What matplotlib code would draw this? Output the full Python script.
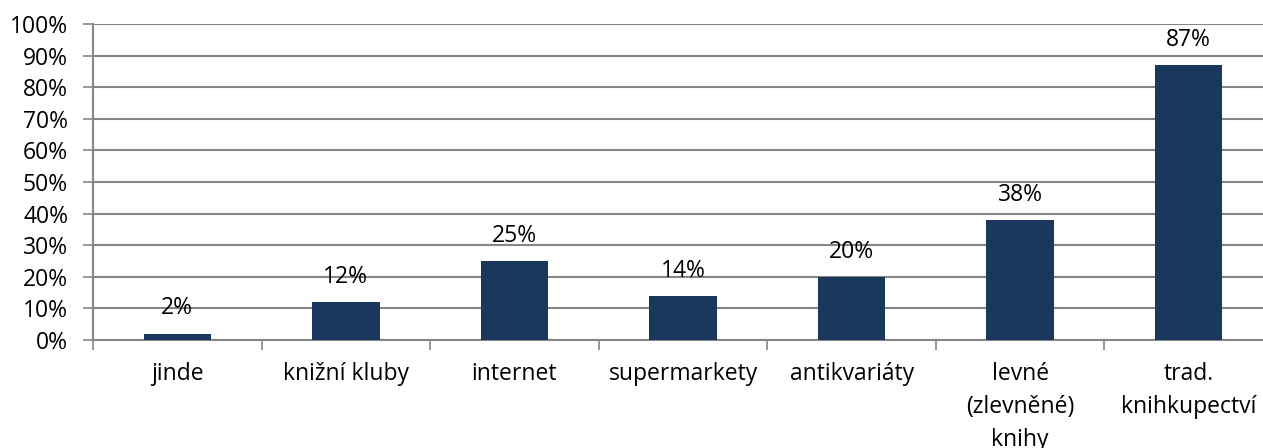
import matplotlib.pyplot as plt
import numpy as np

categories = ["jinde", "knižní kluby", "internet", "supermarkety", "antikvariáty",
              "levné\n(zlevněné)\nknihy", "trad.\nknihkupectví"]
values = [2, 12, 25, 14, 20, 38, 87]
yticks = [0, 10, 20, 30, 40, 50, 60, 70, 80, 90, 100]

plt.rcParams['font.family'] = ['Open Sans', 'DejaVu Sans']
fs = 16.5

fig = plt.figure(figsize=(12.63, 4.48), dpi=100)
# axes runs a little past the right edge, like the original
ax = fig.add_axes([93/1263, 1 - 340/448, 1180/1263, 316/448])

grid_col = "#868686"
bar_col = "#1a375e"

x = np.arange(len(categories))
ax.bar(x, values, width=0.4, color=bar_col, zorder=3)
for xi, v in zip(x, values):
    ax.annotate(f"{v}%", (xi, v), xytext=(0, 9.5), textcoords="offset points",
                ha="center", va="bottom", fontsize=fs, color="black")

ax.set_xlim(-0.5, len(categories) - 0.5)
ax.set_ylim(0, 100)
ax.set_yticks(yticks)
ax.set_yticklabels([f"{t}%" for t in yticks], fontsize=fs)
ax.yaxis.grid(True, color=grid_col, linewidth=1.5, zorder=0)
ax.tick_params(axis="y", length=7, width=1.2, color=grid_col, pad=11)

# category labels between boundary ticks
ax.set_xticks(np.arange(len(categories) + 1) - 0.5)
ax.set_xticklabels([])
ax.set_xticks(x, minor=True)
ax.set_xticklabels(categories, minor=True, fontsize=fs, linespacing=1.5, va="top")
ax.tick_params(axis="x", which="major", length=7, width=1.2, color=grid_col)
ax.tick_params(axis="x", which="minor", length=0, pad=16)

for s in ["top", "right"]:
    ax.spines[s].set_visible(False)
ax.spines["left"].set_color(grid_col)
ax.spines["left"].set_linewidth(1.5)
ax.spines["bottom"].set_color(grid_col)
ax.spines["bottom"].set_linewidth(1.5)

fig.savefig("out.png", dpi=100)
